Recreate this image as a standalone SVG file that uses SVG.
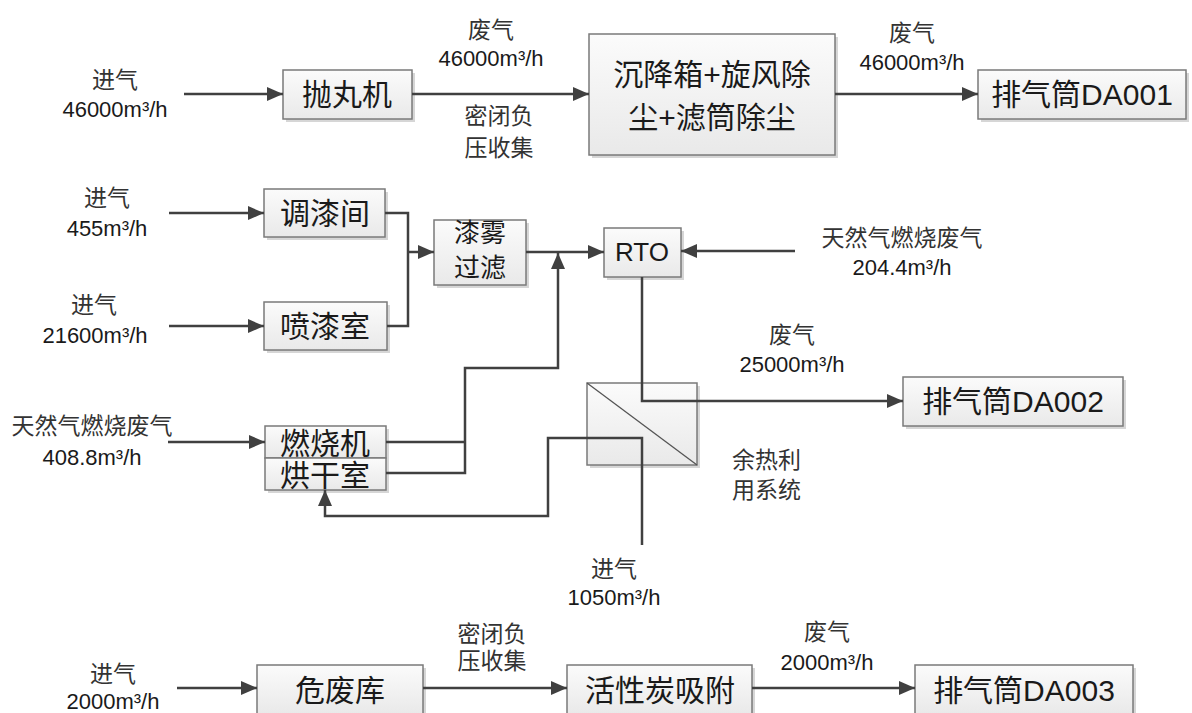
<svg xmlns="http://www.w3.org/2000/svg" width="1192" height="713" viewBox="0 0 1192 713">
<style>
text{font-family:"Liberation Sans","Noto Sans CJK SC",sans-serif;fill:#1a1a1a;text-anchor:middle;dominant-baseline:central}
.box{fill:url(#g);stroke:#7a7a7a;stroke-width:1.5}
.sh{fill:#d6d6d6}
.big{font-size:30px}
.mid{font-size:26px}
.lbl{font-size:23px;fill:#333}
.num{font-size:22px}
.ln{fill:none;stroke:#404040;stroke-width:2.5}
.ar{marker-end:url(#a)}
</style>
<defs>
<linearGradient id="g" x1="0" y1="0" x2="0" y2="1"><stop offset="0" stop-color="#fbfbfb"/><stop offset="1" stop-color="#e9e9e9"/></linearGradient>
<marker id="a" viewBox="0 0 16 14" refX="16" refY="7" markerWidth="16" markerHeight="14" markerUnits="userSpaceOnUse" orient="auto"><path d="M0,0 L16,7 L0,14 z" fill="#404040"/></marker>
</defs>
<rect width="1192" height="713" fill="#fff"/>

<g id="n-paowanji"><rect class="sh" x="286" y="73" width="129" height="49"/><rect class="box" x="283" y="70" width="129" height="49"/><text class="big" x="347" y="94">抛丸机</text></g>
<g id="n-chenjiang"><rect class="sh" x="592" y="37" width="246" height="121"/><rect class="box" x="589" y="34" width="246" height="121"/><text class="big" x="712" y="74">沉降箱+旋风除</text><text class="big" x="712" y="117">尘+滤筒除尘</text></g>
<g id="n-da001"><rect class="sh" x="981" y="73" width="208" height="49"/><rect class="box" x="978" y="70" width="208" height="49"/><text class="big" x="1082" y="94">排气筒DA001</text></g>

<g id="n-tiaoqi"><rect class="sh" x="267" y="192" width="121" height="48"/><rect class="box" x="264" y="189" width="121" height="48"/><text class="big" x="325" y="213">调漆间</text></g>
<g id="n-penqi"><rect class="sh" x="267" y="305" width="123" height="48"/><rect class="box" x="264" y="302" width="123" height="48"/><text class="big" x="325" y="326">喷漆室</text></g>
<g id="n-qiwu"><rect class="sh" x="437" y="223" width="92" height="65"/><rect class="box" x="434" y="220" width="92" height="65"/><text class="mid" x="480" y="233">漆雾</text><text class="mid" x="480" y="268">过滤</text></g>
<g id="n-rto"><rect class="sh" x="607" y="231" width="77" height="49"/><rect class="box" x="604" y="228" width="77" height="49"/><text class="mid" x="642" y="252">RTO</text></g>
<g id="n-ranshao"><rect class="sh" x="268" y="429" width="121" height="64"/><rect class="box" x="265" y="426" width="121" height="32"/><text class="big" x="325" y="443">燃烧机</text></g>
<g id="n-honggan"><rect class="box" x="265" y="458" width="121" height="32"/><text class="big" x="325" y="475">烘干室</text></g>
<g id="n-yure"><rect class="sh" x="590" y="386" width="110" height="82"/><rect class="box" x="587" y="383" width="110" height="82"/><line x1="587" y1="383" x2="697" y2="465" stroke="#555" stroke-width="1.3"/></g>
<g id="n-da002"><rect class="sh" x="906" y="380" width="220" height="49"/><rect class="box" x="903" y="377" width="220" height="49"/><text class="big" x="1013" y="401">排气筒DA002</text></g>

<g id="n-weifei"><rect class="sh" x="260" y="668" width="166" height="49"/><rect class="box" x="257" y="665" width="166" height="49"/><text class="big" x="340" y="690">危废库</text></g>
<g id="n-huoxingtan"><rect class="sh" x="570" y="668" width="185" height="49"/><rect class="box" x="567" y="665" width="185" height="49"/><text class="big" x="660" y="690">活性炭吸附</text></g>
<g id="n-da003"><rect class="sh" x="918" y="668" width="218" height="49"/><rect class="box" x="915" y="665" width="218" height="49"/><text class="big" x="1024" y="690">排气筒DA003</text></g>

<g id="connectors">
<path class="ln ar" d="M184,94 H283"/>
<path class="ln ar" d="M412,94 H589"/>
<path class="ln ar" d="M835,94 H978"/>
<path class="ln ar" d="M169,213 H264"/>
<path class="ln ar" d="M169,326 H264"/>
<path class="ln" d="M385,213 H408 V326 H387"/>
<path class="ln ar" d="M408,252 H434"/>
<path class="ln ar" d="M526,252 H604"/>
<path class="ln ar" d="M168,442 H265"/>
<path class="ln" d="M386,442 H465"/>
<path class="ln ar" d="M386,473 H465 V368 H558 V253"/>
<path class="ln ar" d="M795,251 H681"/>
<path class="ln ar" d="M642,277 V401 H903"/>
<path class="ln ar" d="M642,545 V438 H548 V516 H325 V490"/>
<path class="ln ar" d="M177,688 H257"/>
<path class="ln ar" d="M423,688 H567"/>
<path class="ln ar" d="M752,688 H915"/>
</g>

<g id="labels">
<text class="lbl" x="115" y="80">进气</text><text class="num" x="115" y="109">46000m³/h</text>
<text class="lbl" x="491" y="30">废气</text><text class="num" x="491" y="58">46000m³/h</text>
<text class="lbl" x="499" y="116">密闭负</text><text class="lbl" x="499" y="148">压收集</text>
<text class="lbl" x="912" y="33">废气</text><text class="num" x="912" y="62">46000m³/h</text>
<text class="lbl" x="107" y="198">进气</text><text class="num" x="107" y="228">455m³/h</text>
<text class="lbl" x="94" y="305">进气</text><text class="num" x="95" y="335">21600m³/h</text>
<text class="lbl" x="92" y="426">天然气燃烧废气</text><text class="num" x="92" y="457">408.8m³/h</text>
<text class="lbl" x="902" y="238">天然气燃烧废气</text><text class="num" x="902" y="267">204.4m³/h</text>
<text class="lbl" x="792" y="335">废气</text><text class="num" x="792" y="364">25000m³/h</text>
<text class="lbl" x="732" y="460" style="text-anchor:start">余热利</text><text class="lbl" x="732" y="490" style="text-anchor:start">用系统</text>
<text class="lbl" x="614" y="569">进气</text><text class="num" x="614" y="597">1050m³/h</text>
<text class="lbl" x="492" y="634">密闭负</text><text class="lbl" x="492" y="661">压收集</text>
<text class="lbl" x="827" y="632">废气</text><text class="num" x="827" y="662">2000m³/h</text>
<text class="lbl" x="113" y="674">进气</text><text class="num" x="113" y="701">2000m³/h</text>
</g>
</svg>
